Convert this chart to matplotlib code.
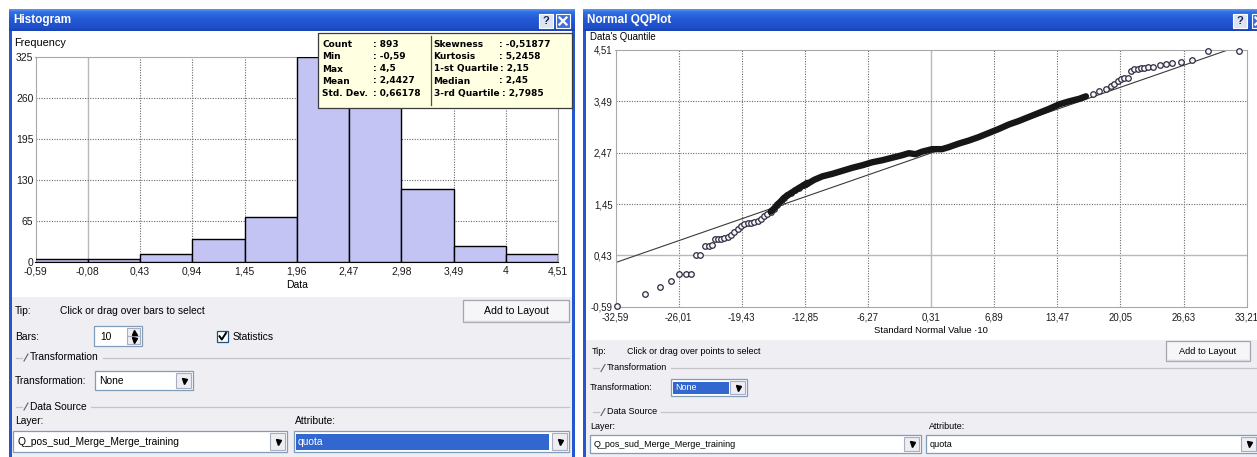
import numpy as np
import matplotlib
matplotlib.use("Agg")
import matplotlib.pyplot as plt
from matplotlib.patches import Rectangle
from matplotlib.colors import to_rgb

W, H = 1257, 457
UI_FONT = ["Liberation Sans", "DejaVu Sans"]
plt.rcParams["font.family"] = UI_FONT

# ---------------- histogram of "quota" ----------------
bin_edges = [-0.59, -0.08, 0.43, 0.94, 1.45, 1.96, 2.47, 2.98, 3.49, 4.0, 4.51]
bin_counts = [5, 5, 13, 36, 72, 325, 283, 115, 26, 13]
hist_xlabels = ["-0,59", "-0,08", "0,43", "0,94", "1,45", "1,96",
                "2,47", "2,98", "3,49", "4", "4,51"]
hist_yticks = [0, 65, 130, 195, 260, 325]

stat_names_left = ["Count", "Min", "Max", "Mean", "Std. Dev."]
stat_values_left = ["893", "-0,59", "4,5", "2,4427", "0,66178"]
stat_names_right = ["Skewness", "Kurtosis", "1-st Quartile", "Median", "3-rd Quartile"]
stat_values_right = ["-0,51877", "5,2458", "2,15", "2,45", "2,7985"]
data_mean = 2.4427
data_std = 0.66178

# ---------------- normal QQ plot ----------------
qq_xticks = [-32.59, -26.01, -19.43, -12.85, -6.27, 0.31, 6.89, 13.47, 20.05, 26.63, 33.21]
qq_xlabels = ["-32,59", "-26,01", "-19,43", "-12,85", "-6,27", "0,31",
              "6,89", "13,47", "20,05", "26,63", "33,21"]
qq_yticks = [-0.59, 0.43, 1.45, 2.47, 3.49, 4.51]
qq_ylabels = ["-0,59", "0,43", "1,45", "2,47", "3,49", "4,51"]

# lower tail: separate points
low_x = [-32.4, -29.52, -27.97, -26.80, -25.98, -25.26, -24.70, -24.18, -23.77,
         -23.22, -22.88, -22.57, -22.26, -21.91, -21.57, -21.23, -20.88, -20.54,
         -20.19, -19.84, -19.50, -19.16, -18.81, -18.47, -18.13, -17.78, -17.44,
         -17.10, -16.75, -16.41, -16.07, -15.72, -15.38, -15.04, -14.69, -14.28,
         -13.87, -13.46, -13.00, -12.60]
low_y = [-0.57, -0.34, -0.20, -0.07, 0.05, 0.05, 0.05, 0.43, 0.43,
         0.61, 0.62, 0.64, 0.76, 0.76, 0.76, 0.78, 0.79, 0.83,
         0.89, 0.95, 1.02, 1.05, 1.07, 1.08, 1.09, 1.12, 1.16,
         1.21, 1.26, 1.30, 1.36, 1.44, 1.50, 1.57, 1.62, 1.67,
         1.72, 1.77, 1.82, 1.87]

# central run, where the circles pile up into a solid band
mid_x = [-12.85, -11.88, -11.02, -9.98, -8.94, -7.90, -6.86, -5.82, -4.78, -3.74,
         -2.70, -2.01, -1.31, -0.63, 0.41, 1.45, 2.15, 3.19, 4.23, 5.27,
         6.31, 7.35, 8.41, 9.46, 10.50, 11.55, 12.60, 13.65, 14.70, 15.74, 16.45]
mid_y = [1.82, 1.93, 2.00, 2.05, 2.11, 2.17, 2.22, 2.28, 2.32, 2.37,
         2.42, 2.46, 2.44, 2.49, 2.54, 2.54, 2.58, 2.65, 2.71, 2.78,
         2.86, 2.94, 3.03, 3.10, 3.18, 3.26, 3.34, 3.43, 3.49, 3.54, 3.59]

# upper tail: separate points
high_x = [17.14, 17.84, 18.54, 19.07, 19.41, 19.76, 20.12, 20.46, 20.80,
          21.16, 21.50, 21.85, 22.20, 22.55, 22.97, 23.42, 24.20, 24.75,
          25.45, 26.40, 27.50, 29.15, 32.37]
high_y = [3.64, 3.69, 3.735, 3.79, 3.84, 3.885, 3.93, 3.95, 3.95,
          4.10, 4.13, 4.14, 4.155, 4.16, 4.17, 4.18, 4.21, 4.23,
          4.25, 4.28, 4.31, 4.50, 4.50]

# ---------------- colours ----------------
PANEL = "#EEEEF3"
BORDER = "#2456CF"
FIELD_EDGE = "#7F9DB9"
SELECT = "#3167CF"
BAR = "#C4C4F4"

fig = plt.figure(figsize=(W / 100, H / 100), dpi=100)
fig.patch.set_facecolor("white")


def frac(x0, y0, x1, y1):
    return [x0 / W, 1 - y1 / H, (x1 - x0) / W, (y1 - y0) / H]


def pixel_axes(z):
    a = fig.add_axes([0, 0, 1, 1], zorder=z)
    a.set_xlim(0, W)
    a.set_ylim(H, 0)
    a.axis("off")
    return a


bg = pixel_axes(0)
renderer = fig.canvas.get_renderer()


def rect(ax, x0, y0, x1, y1, fc, ec="none", lw=1.0, z=1):
    ax.add_patch(Rectangle((x0, y0), x1 - x0, y1 - y0, facecolor=fc,
                           edgecolor=ec, linewidth=lw, zorder=z))


def label(ax, x, y, s, size=7.0, **kw):
    kw.setdefault("va", "center")
    kw.setdefault("ha", "left")
    kw.setdefault("color", "black")
    return ax.text(x, y, s, fontsize=size, zorder=kw.pop("zorder", 4), **kw)


def right_edge(t):
    return t.get_window_extent(renderer).x1


def title_gradient(x0, x1, y0=9, y1=31):
    stops = [0.0, 0.12, 0.45, 0.85, 1.0]
    cols = [to_rgb(c) for c in ["#5C95F0", "#3171E2", "#2459D6", "#1F4FCB", "#1A43B2"]]
    t = np.linspace(0, 1, 40)
    arr = np.zeros((40, 1, 3))
    for k in range(3):
        arr[:, 0, k] = np.interp(t, stops, [c[k] for c in cols])
    bg.imshow(arr, extent=(x0, x1, y1, y0), aspect="auto",
              interpolation="bilinear", zorder=2)


def window(x0, x1, title, panel_top):
    rect(bg, x0, 9, x1, H, "white", z=1)
    rect(bg, x0 + 3, panel_top, x1 - 3, H, PANEL, z=1)
    rect(bg, x0, 9, x0 + 3, H, BORDER, z=2)
    rect(bg, x1 - 3, 9, x1, H, BORDER, z=2)
    title_gradient(x0, x1)
    label(bg, x0 + 4, 20.5, title, size=8.5, color="white", weight="bold")


def help_button(x, y=21):
    rect(bg, x - 7, y - 7, x + 7, y + 7, "#DCE4F4", ec="white", lw=0.8, z=3)
    label(bg, x, y, "?", size=8, ha="center", weight="bold", color="#1A2A55")


def close_button(x, y=21):
    rect(bg, x - 7, y - 7, x + 7, y + 7, "#3F6FDC", ec="white", lw=0.8, z=3)
    bg.plot([x - 3.5, x + 3.5], [y - 3.5, y + 3.5], color="white", lw=1.6, zorder=4)
    bg.plot([x - 3.5, x + 3.5], [y + 3.5, y - 3.5], color="white", lw=1.6, zorder=4)


def button(x0, y0, x1, y1, s, size=7.0):
    rect(bg, x0, y0, x1, y1, "#F6F6F8", ec="#A4A4AC", lw=0.9, z=3)
    bg.plot([x0 + 1, x1 - 1], [y1 - 1.5, y1 - 1.5], color="#D6D6DE", lw=1, zorder=3)
    label(bg, (x0 + x1) / 2, (y0 + y1) / 2, s, size=size, ha="center")


def arrow_box(x0, y0, x1, y1, down=True):
    rect(bg, x0, y0, x1, y1, "#EDEDF2", ec="#A8AEC0", lw=0.8, z=4)
    bg.plot((x0 + x1) / 2, (y0 + y1) / 2, marker="v" if down else "^",
            ms=3.6, color="black", zorder=5, linestyle="none")


def combo(x0, y0, x1, y1, s, size=7.0, select_to=None):
    rect(bg, x0, y0, x1, y1, "white", ec=FIELD_EDGE, lw=0.9, z=3)
    color = "black"
    if select_to is not None:
        rect(bg, x0 + 2, y0 + 2.5, select_to, y1 - 2.5, SELECT, z=3)
        color = "white"
    label(bg, x0 + 4, (y0 + y1) / 2 + 0.5, s, size=size, color=color)
    arrow_box(x1 - 17, y0 + 2, x1 - 2, y1 - 2)


def group(x, y, s, x_end, size=7.0):
    bg.plot([x - 8, x - 2], [y, y], color="#C4C4C8", lw=0.9, zorder=3)
    bg.plot([x, x + 4], [y + 3.5, y - 3.5], color="#606060", lw=0.8, zorder=3)
    t = label(bg, x + 6, y, s, size=size)
    fig.canvas.draw()
    bg.plot([right_edge(t) + 4, x_end], [y, y], color="#C4C4C8", lw=0.9, zorder=3)


# ---------------- window frames ----------------
window(9, 575, "Histogram", 297)
help_button(546)
close_button(563)
window(583, W + 3, "Normal QQPlot", 340)
help_button(1240)
close_button(1259)

# ---------------- histogram axes ----------------
def grid_style(t, ticks):
    if t == min(ticks, key=abs):
        return dict(color="#B8B8B8", lw=1.0, ls="-")
    return dict(color="#6A6A6A", lw=0.8, ls=(0, (1, 1.3)))


hax = fig.add_axes(frac(35.5, 56.7, 558, 262), zorder=1)
hax.set_xlim(bin_edges[0], bin_edges[-1])
hax.set_ylim(0, hist_yticks[-1])
for t in bin_edges[1:-1]:
    hax.axvline(t, zorder=1, **grid_style(t, bin_edges))
for t in hist_yticks[1:-1]:
    hax.axhline(t, zorder=1, **grid_style(t, hist_yticks))
hax.bar(bin_edges[:-1], bin_counts, width=np.diff(bin_edges), align="edge",
        color=BAR, edgecolor="black", linewidth=1.0, zorder=3)
for side in ["top", "left", "right"]:
    hax.spines[side].set_color("#A8A8A8")
hax.spines["bottom"].set_color("black")
hax.set_xticks(bin_edges)
hax.set_xticklabels(hist_xlabels)
hax.set_yticks(hist_yticks)
hax.set_yticklabels([str(v) for v in hist_yticks])
hax.tick_params(length=0, labelsize=7.5, labelcolor="#1A1A1A")
hax.tick_params(axis="x", pad=3)
hax.tick_params(axis="y", pad=1.5)
hax.set_xlabel("Data", fontsize=7.5, labelpad=3)
label(bg, 14, 43.3, "Frequency", size=7.8)

# ---------------- QQ axes ----------------
qax = fig.add_axes(frac(615.5, 50, 1246.7, 306.7), zorder=1)
qax.set_xlim(qq_xticks[0], qq_xticks[-1])
qax.set_ylim(qq_yticks[0], qq_yticks[-1])
for t in qq_xticks[1:-1]:
    qax.axvline(t, zorder=1, **grid_style(t, qq_xticks))
for t in qq_yticks[1:-1]:
    qax.axhline(t, zorder=1, **grid_style(t, qq_yticks))
for side in qax.spines.values():
    side.set_color("#A8A8A8")

line_x = np.array([qq_xticks[0], qq_xticks[-1]])
qax.plot(line_x, data_mean + data_std * line_x / 10.0, color="#3A3A3A", lw=0.8, zorder=2)

for xs, ys in [(low_x, low_y), (high_x, high_y)]:
    qax.plot(xs, ys, "o", ms=4.0, mfc="#F6F6FA", mec="#2C2C3E", mew=0.9,
             zorder=4, clip_on=False, linestyle="none")

# overlapping circles merge into a dark band from the upper part of the low run on
band_x = [x for x in low_x if x >= -16.5] + mid_x
band_y = [y for x, y in zip(low_x, low_y) if x >= -16.5] + mid_y
qax.plot(band_x, band_y, "-", color="#161616", lw=4.6, solid_capstyle="round",
         solid_joinstyle="round", zorder=5)

qax.set_xticks(qq_xticks)
qax.set_xticklabels(qq_xlabels)
qax.set_yticks(qq_yticks)
qax.set_yticklabels(qq_ylabels)
qax.tick_params(length=0, labelsize=6.9, labelcolor="#1A1A1A")
qax.tick_params(axis="x", pad=4)
qax.tick_params(axis="y", pad=2)
qax.set_xlabel("Standard Normal Value \u00b710", fontsize=6.8, labelpad=3)
label(bg, 590, 37.0, "Data's Quantile", size=6.9)

# ---------------- statistics box ----------------
fg = pixel_axes(3)
rect(fg, 318, 32.5, 572, 107.5, "#FFFFE1", ec="#3C3C3C", lw=0.9, z=1)
fg.plot([431, 431], [35.5, 104.5], color="#505050", lw=0.9, zorder=2)
rows = [44.3, 56.7, 69.0, 81.0, 93.3]
STAT_FONT = ["DejaVu Sans"]
for names, values, x_name, x_tab in [(stat_names_left, stat_values_left, 322.5, 372.7),
                                     (stat_names_right, stat_values_right, 433.5, 499.0)]:
    for y, n, v in zip(rows, names, values):
        t = label(fg, x_name, y, n, size=6.5, weight="bold", family=STAT_FONT)
        fig.canvas.draw()
        xv = max(x_tab, right_edge(t) + 2.5)
        label(fg, xv, y, ": " + v, size=6.5, weight="bold", family=STAT_FONT)

# ---------------- histogram control panel ----------------
PS = 7.4
label(bg, 15, 311, "Tip:", size=PS)
label(bg, 60, 311, "Click or drag over bars to select", size=PS)
button(463, 300, 569, 322, "Add to Layout", size=7.6)
label(bg, 15, 336.5, "Bars:", size=PS)
rect(bg, 94, 326, 142, 346, "white", ec=FIELD_EDGE, lw=0.9, z=3)
label(bg, 100, 336.5, "10", size=PS)
arrow_box(127, 328, 140, 336, down=False)
arrow_box(127, 336, 140, 344, down=True)
rect(bg, 217, 331, 228, 342, "white", ec="#1C5180", lw=0.9, z=3)
bg.plot([219.5, 221.8, 226.0], [336.3, 339.5, 333.0], color="black", lw=1.4, zorder=4)
label(bg, 233, 336.5, "Statistics", size=PS)
group(24, 357.5, "Transformation", 569, size=PS)
label(bg, 15, 380.5, "Transformation:", size=PS)
combo(95, 371, 193, 390, "None", size=PS)
group(24, 406.5, "Data Source", 569, size=PS)
label(bg, 15, 420.5, "Layer:", size=PS)
label(bg, 295, 420.5, "Attribute:", size=PS)
combo(13, 431, 287, 452, "Q_pos_sud_Merge_Merge_training", size=PS)
combo(294, 431, 569, 452, "quota", size=PS, select_to=549)

# ---------------- QQ control panel ----------------
QS = 6.5
label(bg, 592, 351, "Tip:", size=QS)
label(bg, 627, 351, "Click or drag over points to select", size=QS)
button(1166, 341, 1250, 361, "Add to Layout", size=6.7)
group(601, 368, "Transformation", W, size=QS)
label(bg, 590, 387.5, "Transformation:", size=QS)
combo(671, 379, 747, 396, "None", size=QS, select_to=729)
group(601, 412, "Data Source", W, size=QS)
label(bg, 590, 426.5, "Layer:", size=QS)
label(bg, 929, 426.5, "Attribute:", size=QS)
combo(590, 435, 921, 453, "Q_pos_sud_Merge_Merge_training", size=QS)
combo(926, 435, 1258, 453, "quota", size=QS)

fig.savefig("out.png", dpi=100, facecolor=fig.get_facecolor())
